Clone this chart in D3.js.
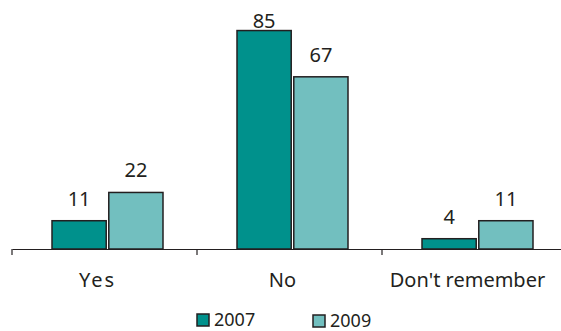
<!DOCTYPE html>
<html>
<head>
<meta charset="utf-8">
<script src="https://cdn.jsdelivr.net/npm/d3@7"></script>
<style>
  html, body { margin: 0; padding: 0; background: #fff; }
  svg { display: block; }
  text { font-family: "Noto Sans", "Open Sans", sans-serif; fill: #231f20; }
</style>
</head>
<body>
<svg id="chart" width="561" height="331"></svg>
<script>
// Survey answers by year
const categories = ["Yes", "No", "Don't remember"];
const years = ["2007", "2009"];
const values2007 = [11, 85, 4];
const values2009 = [22, 67, 11];
const yDomain = [0, 100];

const colors = { "2007": "#00918c", "2009": "#72bfbf" };
const series = { "2007": values2007, "2009": values2009 };

const svg = d3.select("#chart");
const baseY = 249;

const x = d3.scaleBand().domain(categories).range([12, 567]).padding(0);
const y = d3.scaleLinear().domain(yDomain).range([baseY, baseY - 257]);

const barW = 53, gap = 5, shift = 3;
const xInner = d3.scaleBand().domain(years)
  .range([0, barW * 2 + gap]).paddingInner(gap / (barW * 2 + gap));

// Category axis along the baseline
const axis = d3.axisBottom(x).tickSize(6).tickSizeOuter(0).tickFormat("");
const gAxis = svg.append("g").attr("transform", `translate(0,${baseY})`).call(axis);
gAxis.select(".domain").attr("stroke", "#231f20").attr("stroke-width", 1.2);
// ticks at the band boundaries
gAxis.selectAll(".tick").remove();
gAxis.selectAll("line.bound")
  .data([...categories.map(c => x(c)), x.range()[1]])
  .join("line").attr("class", "bound")
  .attr("x1", d => d).attr("x2", d => d)
  .attr("y1", 0).attr("y2", 6)
  .attr("stroke", "#231f20").attr("stroke-width", 1.2);

// Category labels
svg.selectAll("text.cat").data(categories).join("text")
  .attr("class", "cat")
  .attr("x", d => x(d) + x.bandwidth() / 2 - 7)
  .attr("y", 287)
  .attr("text-anchor", "middle")
  .attr("font-size", 20)
  .attr("letter-spacing", d => d === "Yes" ? 2 : 0)
  .text(d => d);

// Bars
const rows = [];
categories.forEach((c, i) => years.forEach(yr => rows.push({ c, yr, v: series[yr][i] })));

const groupLeft = c => x(c) + x.bandwidth() / 2 - (barW * 2 + gap) / 2 + shift;

svg.selectAll("rect.bar").data(rows).join("rect")
  .attr("class", "bar")
  .attr("x", d => groupLeft(d.c) + xInner(d.yr))
  .attr("width", xInner.bandwidth())
  .attr("y", d => y(d.v))
  .attr("height", d => baseY - y(d.v))
  .attr("fill", d => colors[d.yr])
  .attr("stroke", "#231f20")
  .attr("stroke-width", 1.5);

// Value labels
svg.selectAll("text.val").data(rows).join("text")
  .attr("class", "val")
  .attr("x", d => groupLeft(d.c) + xInner(d.yr) + xInner.bandwidth() / 2)
  .attr("y", d => Math.max(y(d.v) - 15, 28))
  .attr("text-anchor", "middle")
  .attr("font-size", 20)
  .text(d => d.v);

// Legend
const legendPos = { "2007": { x: 197, y: 314 }, "2009": { x: 313, y: 315 } };
const lg = svg.selectAll("g.leg").data(years).join("g")
  .attr("class", "leg")
  .attr("transform", d => `translate(${legendPos[d].x},${legendPos[d].y})`);
lg.append("rect").attr("width", 12).attr("height", 12)
  .attr("fill", d => colors[d]).attr("stroke", "#231f20").attr("stroke-width", 1.5);
lg.append("text").attr("x", 17).attr("y", 12)
  .attr("font-size", 18).text(d => d);
</script>
</body>
</html>
